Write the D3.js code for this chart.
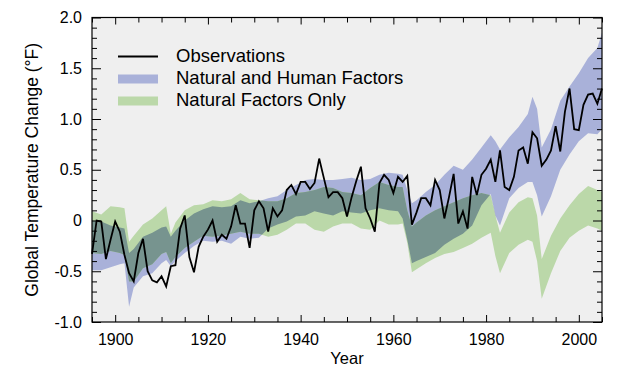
<!DOCTYPE html>
<html lang="en">
<head>
  <meta charset="utf-8">
  <title>Global Temperature Change</title>
  <script src="https://cdn.jsdelivr.net/npm/d3@7"></script>
  <style>
    body { margin: 0; background: #fff; }
    svg text { font-family: "Liberation Sans", Arial, sans-serif; fill: #000; }
  </style>
</head>
<body>
<div id="chart"></div>
<script>

// observed global temperature change (deg F), one value per year from 1895
var obsStart = 1895;
var observations = [
  -0.33, 0.00, -0.01, -0.38, -0.19, -0.01, -0.11, -0.34, -0.52, -0.60,
  -0.32, -0.18, -0.50, -0.59, -0.61, -0.55, -0.65, -0.45, -0.44, -0.08,
   0.05, -0.36, -0.51, -0.26, -0.16, -0.09, 0.00, -0.21, -0.14, -0.18,
  -0.06, 0.15, -0.03, -0.03, -0.27, 0.10, 0.19, 0.12, -0.11, 0.12,
   0.04, 0.10, 0.30, 0.35, 0.26, 0.38, 0.38, 0.31, 0.37, 0.61,
   0.42, 0.23, 0.28, 0.28, 0.22, 0.04, 0.23, 0.39, 0.53, 0.12,
   0.02, -0.11, 0.37, 0.45, 0.40, 0.27, 0.43, 0.38, 0.44, -0.04,
   0.08, 0.22, 0.22, 0.15, 0.40, 0.30, 0.02, 0.23, 0.46, -0.03,
   0.09, -0.08, 0.43, 0.25, 0.45, 0.51, 0.60, 0.38, 0.69, 0.33,
   0.30, 0.43, 0.69, 0.72, 0.56, 0.87, 0.81, 0.54, 0.60, 0.69,
   0.93, 0.68, 1.07, 1.30, 0.90, 0.89, 1.14, 1.24, 1.25, 1.15,
   1.30
];

// model ranges, read at these years
var bandYears = [1895, 1897, 1899, 1901, 1902, 1903, 1904, 1906, 1908, 1910,
  1911, 1912, 1913, 1915, 1917, 1919, 1921, 1923, 1925, 1927,
  1929, 1931, 1933, 1935, 1937, 1939, 1941, 1943, 1945, 1947,
  1949, 1951, 1953, 1955, 1957, 1959, 1961, 1962, 1963, 1964,
  1965, 1967, 1969, 1971, 1973, 1975, 1977, 1979, 1981, 1982,
  1983, 1985, 1987, 1989, 1990, 1991, 1992, 1994, 1996, 1998,
  2000, 2002, 2004, 2005];

// natural and human factors
var humanHi = [0.00, -0.01, -0.05, -0.07, -0.08, -0.32, -0.28, -0.16, -0.12, -0.07,
  -0.06, -0.16, -0.10, 0.00, 0.07, 0.11, 0.14, 0.13, 0.14, 0.20,
  0.17, 0.19, 0.22, 0.24, 0.30, 0.35, 0.40, 0.41, 0.40, 0.40,
  0.41, 0.42, 0.40, 0.41, 0.45, 0.47, 0.46, 0.45, 0.30, 0.17,
  0.20, 0.28, 0.35, 0.45, 0.54, 0.50, 0.60, 0.72, 0.84, 0.78,
  0.70, 0.82, 0.92, 1.05, 1.22, 1.10, 0.72, 0.90, 1.18, 1.32,
  1.45, 1.60, 1.70, 1.85];
var humanLo = [-0.49, -0.49, -0.46, -0.43, -0.42, -0.85, -0.66, -0.55, -0.52, -0.42,
  -0.39, -0.45, -0.40, -0.32, -0.25, -0.20, -0.21, -0.20, -0.23, -0.16,
  -0.18, -0.17, -0.08, -0.04, -0.01, 0.04, 0.05, 0.09, 0.07, 0.05,
  0.09, 0.08, 0.07, 0.10, 0.12, 0.10, 0.09, 0.02, -0.19, -0.42,
  -0.40, -0.36, -0.32, -0.24, -0.18, -0.13, -0.05, 0.15, 0.26, 0.05,
  -0.05, 0.22, 0.32, 0.38, 0.38, 0.25, 0.04, 0.24, 0.50, 0.65,
  0.78, 0.86, 0.85, 0.90];

// natural factors only
var naturalHi = [0.09, 0.06, 0.14, 0.13, 0.12, -0.21, -0.15, -0.04, 0.02, 0.10,
  0.14, -0.13, -0.02, 0.10, 0.15, 0.16, 0.20, 0.19, 0.21, 0.27,
  0.21, 0.20, 0.19, 0.19, 0.22, 0.27, 0.28, 0.30, 0.33, 0.32,
  0.28, 0.27, 0.25, 0.32, 0.38, 0.35, 0.33, 0.33, 0.10, -0.06,
  -0.02, 0.05, 0.10, 0.14, 0.18, 0.22, 0.25, 0.27, 0.25, 0.05,
  -0.12, 0.08, 0.18, 0.23, 0.22, 0.05, -0.38, -0.15, 0.02, 0.15,
  0.26, 0.34, 0.30, 0.28];
var naturalLo = [-0.32, -0.33, -0.30, -0.32, -0.34, -0.60, -0.60, -0.47, -0.43, -0.33,
  -0.31, -0.42, -0.36, -0.27, -0.21, -0.15, -0.16, -0.15, -0.13, -0.11,
  -0.13, -0.13, -0.16, -0.14, -0.09, -0.03, -0.03, -0.09, -0.11, -0.06,
  -0.03, -0.03, -0.08, -0.09, 0.00, -0.04, -0.04, -0.03, -0.22, -0.51,
  -0.48, -0.42, -0.37, -0.33, -0.31, -0.27, -0.23, -0.17, -0.12, -0.35,
  -0.52, -0.32, -0.24, -0.19, -0.21, -0.40, -0.77, -0.52, -0.30, -0.17,
  -0.10, -0.05, -0.08, -0.10];

var yTickValues = [-1, -0.5, 0, 0.5, 1, 1.5, 2];
var yTickLabels = ["-1.0", "-0.5", "0", "0.5", "1.0", "1.5", "2.0"];
var xTickValues = [1900, 1920, 1940, 1960, 1980, 2000];

var legendLabels = ["Observations", "Natural and Human Factors", "Natural Factors Only"];

var colors = { human: "#a9b1d9", natural: "#bbd8a9", both: "#77948f", bg: "#efefef" };

// plot box
var W = 624, H = 373;
var box = { left: 92, right: 602, top: 17.5, bottom: 322 };

var svg = d3.select("#chart").append("svg")
  .attr("width", W)
  .attr("height", H);

var x = d3.scaleLinear().domain([1895, 2005]).range([box.left, box.right]);
var y = d3.scaleLinear().domain([-1, 2]).range([box.bottom, box.top]);

svg.append("rect")
  .attr("x", box.left).attr("y", box.top)
  .attr("width", box.right - box.left).attr("height", box.bottom - box.top)
  .attr("fill", colors.bg);

var bands = bandYears.map(function(yr, i) {
  return { year: yr, hHi: humanHi[i], hLo: humanLo[i], nHi: naturalHi[i], nLo: naturalLo[i] };
});

var humanArea = d3.area()
  .x(function(d) { return x(d.year); })
  .y0(function(d) { return y(d.hLo); })
  .y1(function(d) { return y(d.hHi); });
var naturalArea = d3.area()
  .x(function(d) { return x(d.year); })
  .y0(function(d) { return y(d.nLo); })
  .y1(function(d) { return y(d.nHi); });

svg.append("clipPath").attr("id", "humanClip")
  .append("path").attr("d", humanArea(bands));

svg.append("path").attr("d", humanArea(bands)).attr("fill", colors.human);
svg.append("path").attr("d", naturalArea(bands)).attr("fill", colors.natural);
// where the two ranges overlap
svg.append("path").attr("d", naturalArea(bands))
  .attr("fill", colors.both)
  .attr("clip-path", "url(#humanClip)");

var obs = observations.map(function(v, i) { return { year: obsStart + i, value: v }; });

svg.append("path")
  .datum(obs)
  .attr("fill", "none")
  .attr("stroke", "#000")
  .attr("stroke-width", 1.8)
  .attr("stroke-linejoin", "miter")
  .attr("d", d3.line()
    .x(function(d) { return x(d.year); })
    .y(function(d) { return y(d.value); }));

// axes, ticks pointing inward
var minorX = d3.range(1895, 2006, 5).filter(function(v) { return xTickValues.indexOf(v) < 0; });
var minorY = d3.range(-10, 21).map(function(v) { return v / 10; })
  .filter(function(v) { return yTickValues.indexOf(v) < 0; });

function addAxis(axis, tx, ty) {
  var g = svg.append("g").attr("transform", "translate(" + tx + "," + ty + ")").call(axis);
  g.select(".domain").remove();
  g.selectAll("line").attr("stroke", "#000");
  return g;
}

var xBottom = addAxis(d3.axisBottom(x).tickValues(xTickValues).tickSize(-7).tickPadding(12)
  .tickFormat(d3.format("d")), 0, box.bottom);
xBottom.selectAll("text").style("font-size", "16px").attr("fill", "#000");
addAxis(d3.axisBottom(x).tickValues(minorX).tickSize(-5).tickFormat(""), 0, box.bottom);
addAxis(d3.axisTop(x).tickValues(xTickValues).tickSize(-7).tickFormat(""), 0, box.top);
addAxis(d3.axisTop(x).tickValues(minorX).tickSize(-5).tickFormat(""), 0, box.top);

var yLeft = addAxis(d3.axisLeft(y).tickValues(yTickValues).tickSize(-9).tickPadding(10)
  .tickFormat(function(d, i) { return yTickLabels[i]; }), box.left, 0);
yLeft.selectAll("text").style("font-size", "16px").attr("fill", "#000");
addAxis(d3.axisLeft(y).tickValues(minorY).tickSize(-5).tickFormat(""), box.left, 0);
addAxis(d3.axisRight(y).tickValues(yTickValues).tickSize(-9).tickFormat(""), box.right, 0);
addAxis(d3.axisRight(y).tickValues(minorY).tickSize(-5).tickFormat(""), box.right, 0);

svg.append("rect")
  .attr("x", box.left).attr("y", box.top)
  .attr("width", box.right - box.left).attr("height", box.bottom - box.top)
  .attr("fill", "none").attr("stroke", "#000").attr("stroke-width", 1.2);

// axis titles
svg.append("text")
  .attr("x", (box.left + box.right) / 2)
  .attr("y", 364)
  .attr("text-anchor", "middle")
  .style("font-size", "16.5px")
  .text("Year");

svg.append("text")
  .attr("transform", "translate(38," + (box.top + box.bottom) / 2 + ") rotate(-90)")
  .attr("text-anchor", "middle")
  .style("font-size", "17.5px")
  .text("Global Temperature Change (\u00B0F)");

// legend
var legend = svg.append("g").attr("transform", "translate(118,56.5)");
legend.append("line")
  .attr("x1", 0).attr("x2", 40).attr("y1", 0).attr("y2", 0)
  .attr("stroke", "#000").attr("stroke-width", 1.8);
legend.append("rect").attr("x", 0).attr("y", 18).attr("width", 40).attr("height", 9)
  .attr("fill", colors.human);
legend.append("rect").attr("x", 0).attr("y", 40).attr("width", 40).attr("height", 9)
  .attr("fill", colors.natural);
legend.selectAll("text.lab")
  .data(legendLabels)
  .enter()
  .append("text")
    .attr("class", "lab")
    .attr("x", 58)
    .attr("y", function(d, i) { return 5.5 + i * 22; })
    .style("font-size", "18.5px")
    .text(function(d) { return d; });

</script>
</body>
</html>
